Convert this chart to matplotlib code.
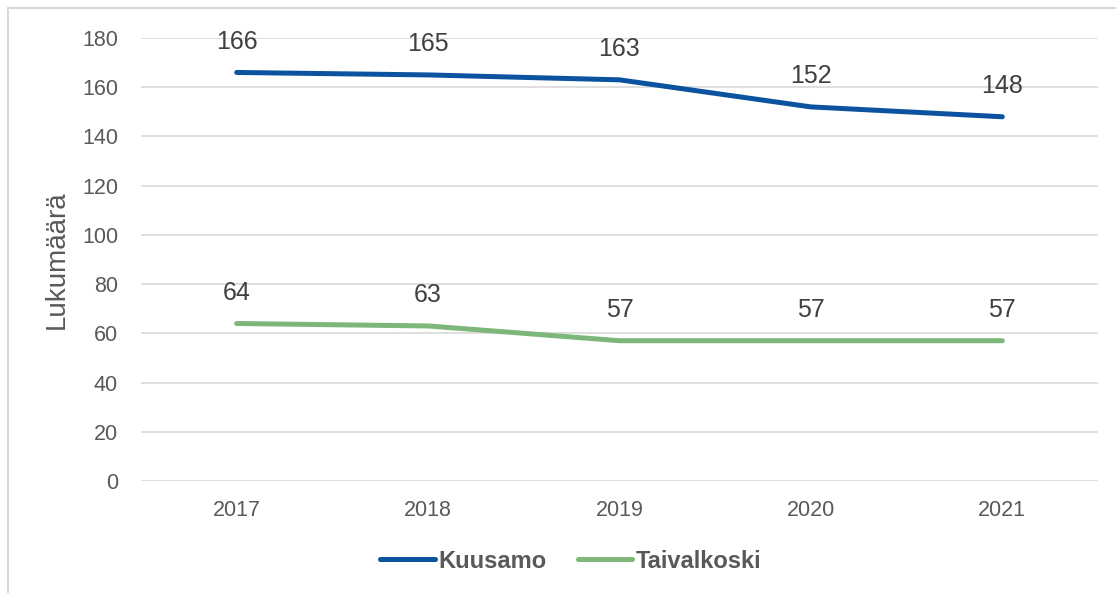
import numpy as np
import matplotlib
matplotlib.use("Agg")
import matplotlib.pyplot as plt
from matplotlib.patches import Rectangle
from matplotlib.lines import Line2D

years = ["2017", "2018", "2019", "2020", "2021"]
kuusamo = [166, 165, 163, 152, 148]
taivalkoski = [64, 63, 57, 57, 57]
series_names = ["Kuusamo", "Taivalkoski"]
colors = ["#0B539F", "#7DB87A"]
y_ticks = [0, 20, 40, 60, 80, 100, 120, 140, 160, 180]

plt.rcParams['font.family'] = ['Liberation Sans', 'DejaVu Sans']

fig = plt.figure(figsize=(11.16, 5.93), dpi=100)
fig.patches.append(Rectangle((8 / 1116, -0.1), 1.2, 1.1 - 8 / 593, transform=fig.transFigure,
                             fill=False, edgecolor="#D9D9D9", linewidth=1.5, zorder=0))
ax = fig.add_axes([141 / 1116, 1 - 481 / 593, (1098 - 141) / 1116, (481 - 38) / 593])

x = np.arange(len(years))
for vals, name, c in zip([kuusamo, taivalkoski], series_names, colors):
    ax.plot(x, vals, color=c, lw=3.6, solid_capstyle='round', solid_joinstyle='round', zorder=3)
    for xi, v in zip(x, vals):
        ax.annotate(str(v), (xi, v), xytext=(0, 17), textcoords='offset points',
                    ha='center', va='baseline', fontsize=18, color='#404040')

ax.set_xlim(-0.5, len(years) - 0.5)
ax.set_ylim(0, 180)
ax.set_yticks(y_ticks)
ax.set_xticks(x)
ax.set_xticklabels(years)
ax.grid(axis='y', color='#D9D9D9', lw=1.2)
ax.set_axisbelow(True)
for s in ax.spines.values():
    s.set_visible(False)
ax.tick_params(length=0, labelsize=15.5, labelcolor='#595959')
ax.tick_params(axis='y', pad=16.5)
ax.tick_params(axis='x', pad=14)
ax.set_ylabel("Lukumäärä", fontsize=20, color='#595959', labelpad=9)

handles = [Line2D([0], [0], color=c, lw=3.6, solid_capstyle='round') for c in colors]
leg = fig.legend(handles, series_names, loc='center', bbox_to_anchor=(571 / 1116, 1 - 561 / 593),
                 ncol=2, frameon=False, handlelength=2.3, handletextpad=0.17, columnspacing=1.3,
                 prop={'size': 17, 'weight': 'bold'})
for t in leg.get_texts():
    t.set_color('#595959')

fig.savefig("out.png", dpi=100)
